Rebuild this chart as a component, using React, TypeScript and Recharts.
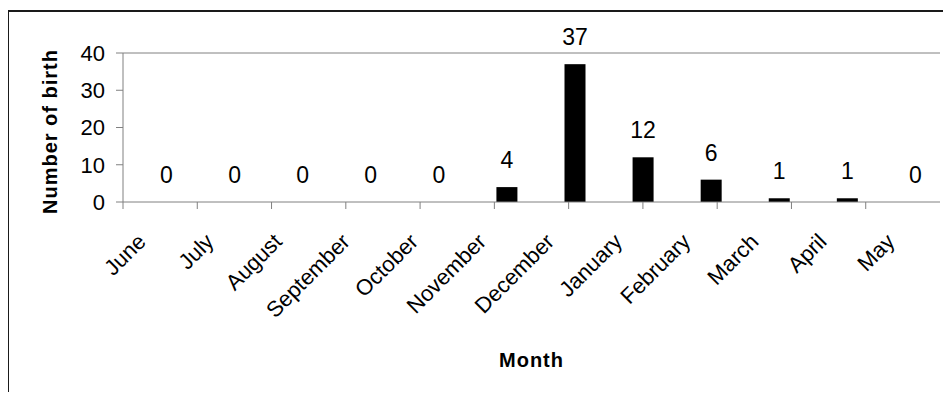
import React from 'react';
import { BarChart, Bar, XAxis, YAxis, ReferenceLine, LabelList } from 'recharts';

const months = ['June', 'July', 'August', 'September', 'October', 'November', 'December', 'January', 'February', 'March', 'April', 'May'];
const births = [0, 0, 0, 0, 0, 4, 37, 12, 6, 1, 1, 0];
const yTicks = [0, 10, 20, 30, 40];
const boundaryTicks = months.map((_, i) => i).concat(months.length);

const data = months.map((m, i) => ({ month: m, births: births[i] }));

const FONT = '"Liberation Sans", Arial, sans-serif';
const AXIS = '#808080';
const BAR_SHIFT = 9;

const CatTick = (props: any) => {
  const { x, y, payload } = props;
  return (
    <g transform={`translate(${x - 10},${y + 1})`}>
      <text textAnchor="end" transform="rotate(-45)" fontSize={22} fill="#000" fontFamily={FONT}>
        {payload.value}
      </text>
    </g>
  );
};

const BarShape = (props: any) => {
  const { x, y, width, height } = props;
  if (!height || height <= 0) return <g />;
  return <rect x={x + BAR_SHIFT} y={y} width={width} height={height} fill="#000" />;
};

const ValueLabel = (props: any) => {
  const { x, y, width, value } = props;
  return (
    <text x={x + width / 2 + BAR_SHIFT} y={y - 19} textAnchor="middle" fontSize={23} fill="#000" fontFamily={FONT}>
      {value}
    </text>
  );
};

const YLabel = (props: any) => {
  const vb = props.viewBox;
  const cx = vb.x + 22;
  const cy = vb.y + vb.height / 2 + 4;
  return (
    <text x={cx} y={cy} transform={`rotate(-90, ${cx}, ${cy})`} textAnchor="middle" dominantBaseline="central"
      fontSize={20} fontWeight="bold" letterSpacing={1} fill="#000" fontFamily={FONT}>
      Number of birth
    </text>
  );
};

const XLabel = (props: any) => {
  const vb = props.viewBox;
  const cx = vb.x + vb.width / 2;
  return (
    <text x={cx} y={359} textAnchor="middle" fontSize={20} fontWeight="bold" letterSpacing={1} fill="#000" fontFamily={FONT}>
      Month
    </text>
  );
};

export default function App() {
  return (
    <div style={{ position: 'relative', width: 943, height: 384 }}>
      <BarChart width={943} height={384} data={data} margin={{ top: 45, right: 11, left: 20, bottom: 0 }} barSize={21}>
        <XAxis xAxisId="b_cat" dataKey="month" type="category" interval={0} height={150}
          axisLine={false} tickLine={false} tickSize={0} tickMargin={0} tick={<CatTick />}
          label={{ content: <XLabel /> }} />
        <XAxis xAxisId="a_grid" type="number" domain={[0, months.length]} ticks={boundaryTicks} allowDataOverflow
          tick={() => <g />} tickSize={7} height={40} stroke={AXIS} />
        <YAxis domain={[0, 40]} ticks={yTicks} width={95} tickSize={7} tickMargin={11} stroke={AXIS}
          tick={{ fill: '#000', fontSize: 22, fontFamily: FONT }} label={{ content: <YLabel /> }} />
        <ReferenceLine xAxisId="a_grid" y={40} stroke={AXIS} />
        <ReferenceLine xAxisId="a_grid" x={months.length} stroke={AXIS} />
        <Bar xAxisId="b_cat" dataKey="births" fill="#000" shape={<BarShape />} isAnimationActive={false}>
          <LabelList dataKey="births" content={<ValueLabel />} />
        </Bar>
      </BarChart>
      <div style={{ position: 'absolute', left: -1, top: 2, width: 944, height: 390, borderTop: '2px solid #1a1a1a', borderLeft: '2px solid #1a1a1a', boxSizing: 'border-box', pointerEvents: 'none' }} />
    </div>
  );
}
